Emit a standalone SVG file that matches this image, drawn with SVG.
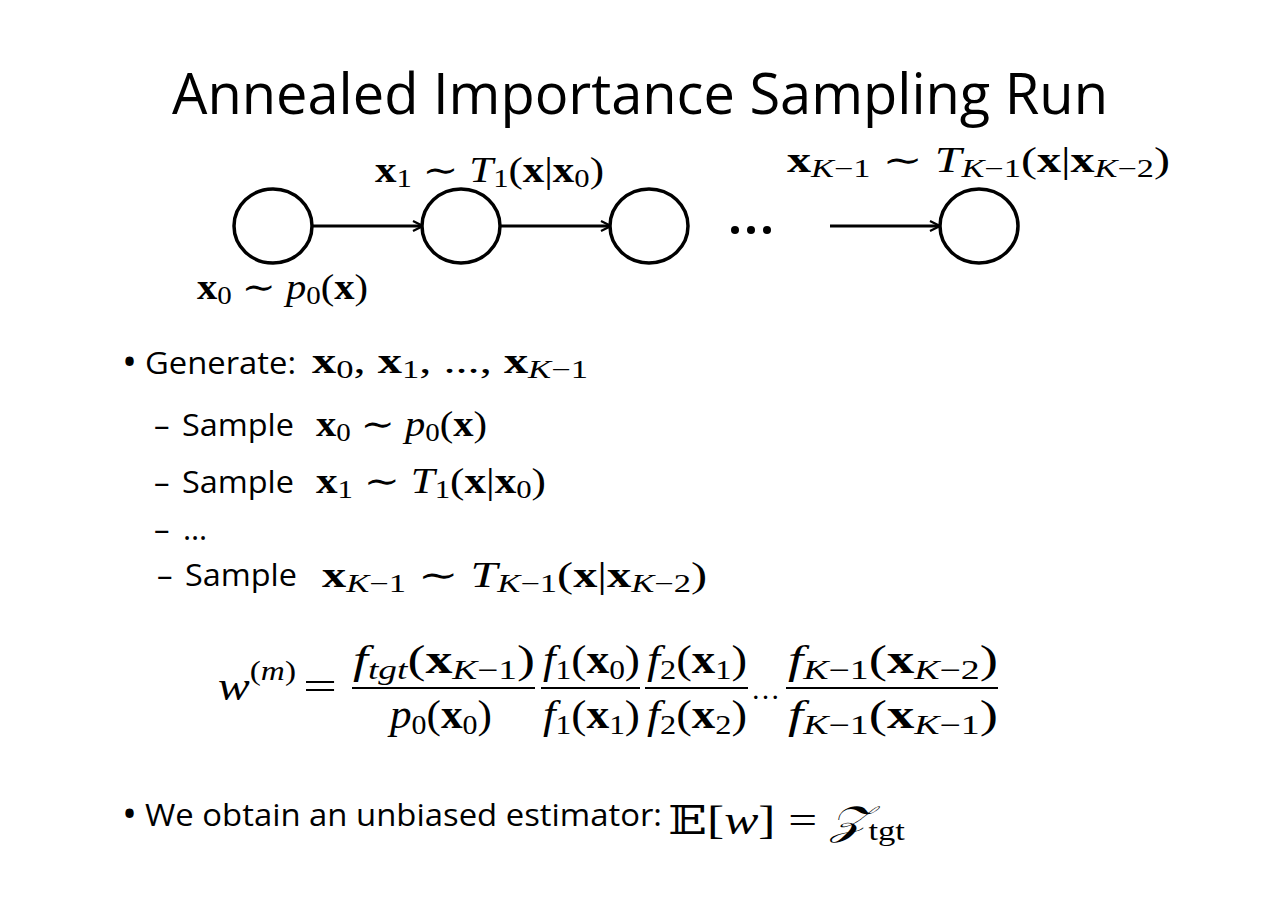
<svg xmlns="http://www.w3.org/2000/svg" width="1280" height="904" viewBox="0 0 1280 904">
<defs>
<style>
.t{font-family:"Open Sans","Liberation Sans",sans-serif;fill:#000}
.m{font-family:"Liberation Serif","DejaVu Serif",serif;font-style:italic;fill:#000}
.b{font-weight:bold;font-style:normal}
.r{font-style:normal}
.node{fill:#fff;stroke:#000;stroke-width:3.5}
.edge{stroke:#000;stroke-width:3;fill:none;marker-end:url(#ah)}
</style>
<marker id="ah" viewBox="0 0 12 12" refX="11" refY="6" markerWidth="12" markerHeight="12" markerUnits="userSpaceOnUse" orient="auto">
<path d="M1,1 L11,6 L1,11" fill="none" stroke="#000" stroke-width="2.2"/>
</marker>
</defs>
<rect width="1280" height="904" fill="#fff"/>
<text class="t" x="172" y="114" font-size="56" textLength="936" lengthAdjust="spacingAndGlyphs">Annealed Importance Sampling Run</text>

<g id="connectors">
<line class="edge" x1="313" y1="226" x2="423" y2="226"/>
<line class="edge" x1="501" y1="226" x2="611" y2="226"/>
<line class="edge" x1="830" y1="226" x2="940" y2="226"/>
</g>
<g id="n0"><ellipse class="node" cx="273" cy="226" rx="39" ry="37"/></g>
<g id="n1"><ellipse class="node" cx="461" cy="226" rx="39" ry="37"/></g>
<g id="n2"><ellipse class="node" cx="649" cy="226" rx="39" ry="37"/></g>
<g id="dots"><circle cx="735" cy="230" r="4"/><circle cx="751" cy="230" r="4"/><circle cx="767" cy="230" r="4"/></g>
<g id="n3"><ellipse class="node" cx="979" cy="226" rx="39" ry="37"/></g>

<g id="labels">
<text class="m" x="375" y="182" font-size="35" textLength="229" lengthAdjust="spacingAndGlyphs"><tspan class="b">x</tspan><tspan class="r" font-size="25" dy="5">1</tspan><tspan class="r" dy="-5"> ∼ </tspan>T<tspan class="r" font-size="25" dy="5">1</tspan><tspan class="r" dy="-5">(</tspan><tspan class="b">x</tspan><tspan class="r">|</tspan><tspan class="b">x</tspan><tspan class="r" font-size="25" dy="5">0</tspan><tspan class="r" dy="-5">)</tspan></text>
<text class="m" x="787" y="172" font-size="35" textLength="383" lengthAdjust="spacingAndGlyphs"><tspan class="b">x</tspan><tspan font-size="25" dy="5">K<tspan class="r">−1</tspan></tspan><tspan class="r" dy="-5"> ∼ </tspan>T<tspan font-size="25" dy="5">K<tspan class="r">−1</tspan></tspan><tspan class="r" dy="-5">(</tspan><tspan class="b">x</tspan><tspan class="r">|</tspan><tspan class="b">x</tspan><tspan font-size="25" dy="5">K<tspan class="r">−2</tspan></tspan><tspan class="r" dy="-5">)</tspan></text>
<text class="m" x="197" y="299" font-size="35" textLength="171" lengthAdjust="spacingAndGlyphs"><tspan class="b">x</tspan><tspan class="r" font-size="25" dy="5">0</tspan><tspan class="r" dy="-5"> ∼ </tspan>p<tspan class="r" font-size="25" dy="5">0</tspan><tspan class="r" dy="-5">(</tspan><tspan class="b">x</tspan><tspan class="r">)</tspan></text>
</g>

<g id="bullets">
<text class="t" x="122" y="376" font-size="40">•</text>
<text class="t" x="145" y="374" font-size="31" textLength="151" lengthAdjust="spacingAndGlyphs">Generate:</text>
<text class="m" x="312" y="373" font-size="35" textLength="276" lengthAdjust="spacingAndGlyphs"><tspan class="b">x</tspan><tspan class="r" font-size="25" dy="5">0</tspan><tspan class="r" dy="-5">, </tspan><tspan class="b">x</tspan><tspan class="r" font-size="25" dy="5">1</tspan><tspan class="r" dy="-5">, ..., </tspan><tspan class="b">x</tspan><tspan font-size="25" dy="5">K<tspan class="r">−1</tspan></tspan></text>

<text class="t" x="154" y="436" font-size="31">–</text>
<text class="t" x="182" y="436" font-size="31" textLength="112" lengthAdjust="spacingAndGlyphs">Sample</text>
<text class="m" x="316" y="436" font-size="35" textLength="171" lengthAdjust="spacingAndGlyphs"><tspan class="b">x</tspan><tspan class="r" font-size="25" dy="5">0</tspan><tspan class="r" dy="-5"> ∼ </tspan>p<tspan class="r" font-size="25" dy="5">0</tspan><tspan class="r" dy="-5">(</tspan><tspan class="b">x</tspan><tspan class="r">)</tspan></text>

<text class="t" x="154" y="493" font-size="31">–</text>
<text class="t" x="182" y="493" font-size="31" textLength="112" lengthAdjust="spacingAndGlyphs">Sample</text>
<text class="m" x="316" y="493" font-size="35" textLength="230" lengthAdjust="spacingAndGlyphs"><tspan class="b">x</tspan><tspan class="r" font-size="25" dy="5">1</tspan><tspan class="r" dy="-5"> ∼ </tspan>T<tspan class="r" font-size="25" dy="5">1</tspan><tspan class="r" dy="-5">(</tspan><tspan class="b">x</tspan><tspan class="r">|</tspan><tspan class="b">x</tspan><tspan class="r" font-size="25" dy="5">0</tspan><tspan class="r" dy="-5">)</tspan></text>

<text class="t" x="154" y="540" font-size="31">–</text>
<text class="t" x="183" y="540" font-size="31">…</text>

<text class="t" x="157" y="586" font-size="31">–</text>
<text class="t" x="185" y="586" font-size="31" textLength="112" lengthAdjust="spacingAndGlyphs">Sample</text>
<text class="m" x="322" y="587" font-size="35" textLength="385" lengthAdjust="spacingAndGlyphs"><tspan class="b">x</tspan><tspan font-size="25" dy="5">K<tspan class="r">−1</tspan></tspan><tspan class="r" dy="-5"> ∼ </tspan>T<tspan font-size="25" dy="5">K<tspan class="r">−1</tspan></tspan><tspan class="r" dy="-5">(</tspan><tspan class="b">x</tspan><tspan class="r">|</tspan><tspan class="b">x</tspan><tspan font-size="25" dy="5">K<tspan class="r">−2</tspan></tspan><tspan class="r" dy="-5">)</tspan></text>
</g>

<g id="formula">
<text class="m" x="218" y="700" font-size="40" textLength="78" lengthAdjust="spacingAndGlyphs">w<tspan class="r" font-size="28" dy="-20">(</tspan><tspan font-size="28">m</tspan><tspan class="r" font-size="28">)</tspan></text>
<text class="m r" x="303" y="700" font-size="40" textLength="34" lengthAdjust="spacingAndGlyphs">=</text>
<g stroke="#000" stroke-width="2">
<line x1="352" y1="688" x2="535" y2="688"/>
<line x1="541" y1="688" x2="640" y2="688"/>
<line x1="645" y1="688" x2="748" y2="688"/>
<line x1="786" y1="688" x2="998" y2="688"/>
</g>
<text class="m" x="353" y="673" font-size="39" textLength="182" lengthAdjust="spacingAndGlyphs">f<tspan font-size="27" dy="6">tgt</tspan><tspan class="r" dy="-6">(</tspan><tspan class="b">x</tspan><tspan font-size="27" dy="6">K<tspan class="r">−1</tspan></tspan><tspan class="r" dy="-6">)</tspan></text>
<text class="m" x="390" y="728" font-size="39" textLength="102" lengthAdjust="spacingAndGlyphs">p<tspan class="r" font-size="27" dy="6">0</tspan><tspan class="r" dy="-6">(</tspan><tspan class="b">x</tspan><tspan class="r" font-size="27" dy="6">0</tspan><tspan class="r" dy="-6">)</tspan></text>
<text class="m" x="543" y="673" font-size="39" textLength="97" lengthAdjust="spacingAndGlyphs">f<tspan class="r" font-size="27" dy="6">1</tspan><tspan class="r" dy="-6">(</tspan><tspan class="b">x</tspan><tspan class="r" font-size="27" dy="6">0</tspan><tspan class="r" dy="-6">)</tspan></text>
<text class="m" x="543" y="728" font-size="39" textLength="97" lengthAdjust="spacingAndGlyphs">f<tspan class="r" font-size="27" dy="6">1</tspan><tspan class="r" dy="-6">(</tspan><tspan class="b">x</tspan><tspan class="r" font-size="27" dy="6">1</tspan><tspan class="r" dy="-6">)</tspan></text>
<text class="m" x="647" y="673" font-size="39" textLength="100" lengthAdjust="spacingAndGlyphs">f<tspan class="r" font-size="27" dy="6">2</tspan><tspan class="r" dy="-6">(</tspan><tspan class="b">x</tspan><tspan class="r" font-size="27" dy="6">1</tspan><tspan class="r" dy="-6">)</tspan></text>
<text class="m" x="647" y="728" font-size="39" textLength="100" lengthAdjust="spacingAndGlyphs">f<tspan class="r" font-size="27" dy="6">2</tspan><tspan class="r" dy="-6">(</tspan><tspan class="b">x</tspan><tspan class="r" font-size="27" dy="6">2</tspan><tspan class="r" dy="-6">)</tspan></text>
<text class="m r" x="751" y="699" font-size="30" textLength="29" lengthAdjust="spacingAndGlyphs">…</text>
<text class="m" x="788" y="673" font-size="39" textLength="210" lengthAdjust="spacingAndGlyphs">f<tspan font-size="27" dy="6">K<tspan class="r">−1</tspan></tspan><tspan class="r" dy="-6">(</tspan><tspan class="b">x</tspan><tspan font-size="27" dy="6">K<tspan class="r">−2</tspan></tspan><tspan class="r" dy="-6">)</tspan></text>
<text class="m" x="788" y="728" font-size="39" textLength="210" lengthAdjust="spacingAndGlyphs">f<tspan font-size="27" dy="6">K<tspan class="r">−1</tspan></tspan><tspan class="r" dy="-6">(</tspan><tspan class="b">x</tspan><tspan font-size="27" dy="6">K<tspan class="r">−1</tspan></tspan><tspan class="r" dy="-6">)</tspan></text>
</g>

<g id="estimator">
<text class="t" x="122" y="828" font-size="40">•</text>
<text class="t" x="145" y="826" font-size="31" textLength="517" lengthAdjust="spacingAndGlyphs">We obtain an unbiased estimator:</text>
<text class="m" x="668" y="834" font-size="40" textLength="237" lengthAdjust="spacingAndGlyphs"><tspan class="r">𝔼[</tspan>w<tspan class="r">] = </tspan>𝒵<tspan class="r" font-size="27" dy="6">tgt</tspan></text>
</g>
</svg>
